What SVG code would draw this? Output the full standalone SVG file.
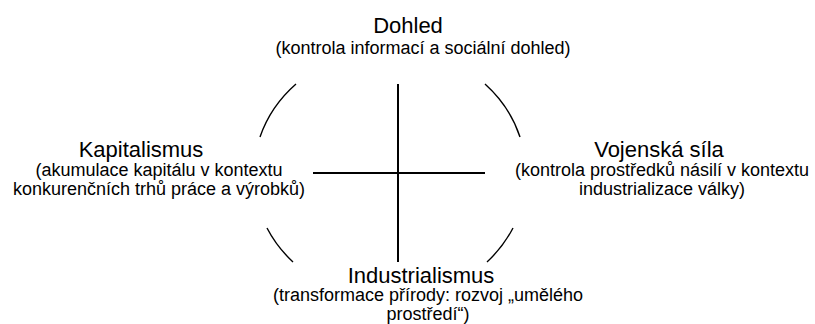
<svg xmlns="http://www.w3.org/2000/svg" width="815" height="324" viewBox="0 0 815 324">
<style>
  text { font-family: "Liberation Sans", Arial, sans-serif; fill: #000; text-anchor: middle; }
  .t { font-size: 22px; }
  .s { font-size: 18px; }
  .arc { fill: none; stroke: #000; stroke-width: 1.4; }
  .ax { stroke: #000; stroke-width: 2; }
</style>
<rect width="815" height="324" fill="#fff"/>
<g id="connectors">
  <path class="arc" d="M260,137 A136,125 0 0 1 296,84"/>
  <path class="arc" d="M485,84 A136,125 0 0 1 520,137"/>
  <path class="arc" d="M513,228 A136,125 0 0 1 487,262"/>
  <path class="arc" d="M293,262 A136,125 0 0 1 267,228"/>
  <line class="ax" x1="398" y1="84" x2="398" y2="262"/>
  <line class="ax" x1="313" y1="173" x2="485" y2="173"/>
</g>
<g id="dohled">
  <text class="t" x="408" y="33">Dohled</text>
  <text class="s" x="423" y="54">(kontrola informací a sociální dohled)</text>
</g>
<g id="kapitalismus">
  <text class="t" x="141" y="157">Kapitalismus</text>
  <text class="s" x="159" y="176">(akumulace kapitálu v kontextu</text>
  <text class="s" x="159" y="195">konkurenčních trhů práce a výrobků)</text>
</g>
<g id="vojenska-sila">
  <text class="t" x="659" y="157">Vojenská síla</text>
  <text class="s" x="662" y="176">(kontrola prostředků násilí v kontextu</text>
  <text class="s" x="662" y="195">industrializace války)</text>
</g>
<g id="industrialismus">
  <text class="t" x="421" y="283">Industrialismus</text>
  <text class="s" x="428" y="301">(transformace přírody: rozvoj „umělého</text>
  <text class="s" x="428" y="320">prostředí“)</text>
</g>
</svg>
